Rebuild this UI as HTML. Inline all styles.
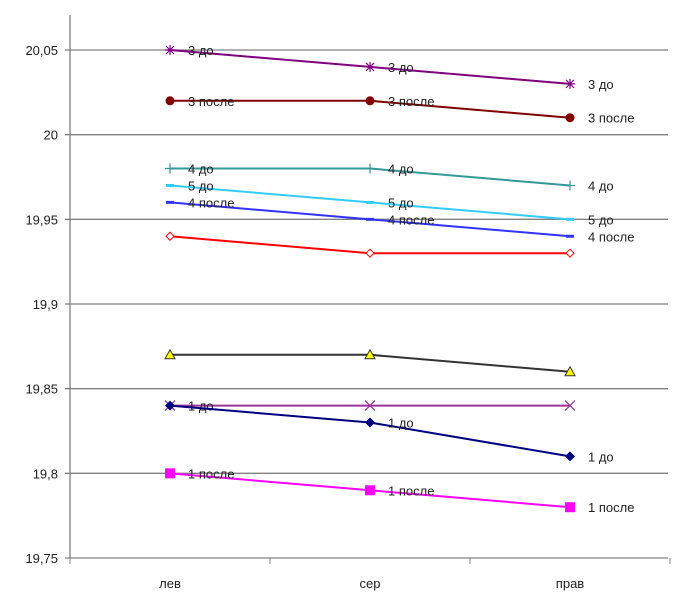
<!DOCTYPE html>
<html><head><meta charset="utf-8"><style>
body{margin:0;background:#fff}
svg{display:block;font-family:"Liberation Sans",Arial,sans-serif}
</style></head><body>
<svg id="c" width="688" height="606"></svg>
<script>
const categories=["лев","сер","прав"];
const yTicks=[19.75,19.8,19.85,19.9,19.95,20,20.05];
const yTickLabels=["19,75","19,8","19,85","19,9","19,95","20","20,05"];
const s3do=[20.05,20.04,20.03];
const s3posle=[20.02,20.02,20.01];
const s4do=[19.98,19.98,19.97];
const s5do=[19.97,19.96,19.95];
const s4posle=[19.96,19.95,19.94];
const sRed=[19.94,19.93,19.93];
const sTri=[19.87,19.87,19.86];
const s1doX=[19.84,19.84,19.84];
const s1do=[19.84,19.83,19.81];
const s1posle=[19.80,19.79,19.78];
const series=[
 {name:"3-do",v:s3do,c:"#800080",m:"star",l:["3 до","3 до","3 до"]},
 {name:"3-posle",v:s3posle,c:"#800000",m:"circle",l:["3 после","3 после","3 после"]},
 {name:"4-do",v:s4do,c:"#339999",m:"plus",l:["4 до","4 до","4 до"]},
 {name:"5-do",v:s5do,c:"#33ccff",m:"dash",l:["5 до","5 до","5 до"]},
 {name:"4-posle",v:s4posle,c:"#3333ff",m:"dash",l:["4 после","4 после","4 после"]},
 {name:"red",v:sRed,c:"#ff0000",m:"hdiamond",l:["","",""]},
 {name:"triangle",v:sTri,c:"#333333",m:"tri",l:["","",""]},
 {name:"1-do-x",v:s1doX,c:"#993399",m:"x",l:["1 до","",""]},
 {name:"1-do",v:s1do,c:"#000080",m:"diamond",l:["","1 до","1 до"]},
 {name:"1-posle",v:s1posle,c:"#ff00ff",m:"square",l:["1 после","1 после","1 после"]}
];
const NS="http://www.w3.org/2000/svg";
const svg=document.getElementById('c');
const X0=70,X1=670,Ytop=15;
const ymin=19.75,ymax=20.05,py0=558,py1=50;
const y=v=>py0-(v-ymin)/(ymax-ymin)*(py0-py1);
const x=i=>X0+(i+0.5)*(X1-X0)/categories.length;
function mk(t,a,p){const e=document.createElementNS(NS,t);for(const k in a)e.setAttribute(k,a[k]);(p||svg).appendChild(e);return e;}
yTicks.forEach((t,i)=>{
 const g=mk('line',{x1:X0-5,x2:X1-2,y1:y(t),y2:y(t),stroke:'#808080','stroke-width':1.3});
 
 
 const tx=mk('text',{x:X0-12,y:y(t)+5,'text-anchor':'end','font-size':13,fill:'#222'});
 tx.textContent=yTickLabels[i];
 
 
});
const ax=mk('line',{x1:X0,x2:X0,y1:Ytop,y2:py0,stroke:'#808080','stroke-width':1.3});


categories.forEach((c,i)=>{
 const tk=mk('line',{x1:X0+i*200,x2:X0+i*200,y1:py0,y2:py0+6,stroke:'#808080'});
 
 
 const t=mk('text',{x:x(i),y:588,'text-anchor':'middle','font-size':13,fill:'#222'});
 t.textContent=c;
 
 
});
const tk=mk('line',{x1:X1,x2:X1,y1:py0,y2:py0+6,stroke:'#808080'});
function marker(g,m,cx,cy,c){
 if(m==='star'){mk('path',{d:`M${cx-5} ${cy}H${cx+5}M${cx} ${cy-5}V${cy+5}M${cx-4} ${cy-4}L${cx+4} ${cy+4}M${cx-4} ${cy+4}L${cx+4} ${cy-4}`,stroke:c,'stroke-width':1.2},g);}
 else if(m==='circle'){mk('circle',{cx,cy,r:4.5,fill:c},g);}
 else if(m==='plus'){mk('path',{d:`M${cx-5} ${cy}H${cx+5}M${cx} ${cy-5}V${cy+5}`,stroke:c,'stroke-width':1.2},g);}
 else if(m==='dash'){mk('path',{d:`M${cx-4} ${cy}H${cx+4}`,stroke:c,'stroke-width':3},g);}
 else if(m==='hdiamond'){mk('path',{d:`M${cx} ${cy-4}L${cx+4} ${cy}L${cx} ${cy+4}L${cx-4} ${cy}Z`,stroke:c,fill:'#fff'},g);}
 else if(m==='tri'){mk('path',{d:`M${cx} ${cy-5}L${cx+5} ${cy+4}H${cx-5}Z`,stroke:'#333',fill:'#ffff00'},g);}
 else if(m==='x'){mk('path',{d:`M${cx-5} ${cy-5}L${cx+5} ${cy+5}M${cx-5} ${cy+5}L${cx+5} ${cy-5}`,stroke:c,'stroke-width':1.2},g);}
 else if(m==='diamond'){mk('path',{d:`M${cx} ${cy-5}L${cx+5} ${cy}L${cx} ${cy+5}L${cx-5} ${cy}Z`,fill:c},g);}
 else if(m==='square'){mk('rect',{x:cx-5,y:cy-5,width:10,height:10,fill:c},g);}
}
series.forEach(s=>{
 const g=mk('g',{});
 
 
 const pts=s.v.map((v,i)=>x(i)+','+y(v)).join(' ');
 mk('polyline',{points:pts,fill:'none',stroke:s.c,'stroke-width':2},g);
 s.v.forEach((v,i)=>{
  marker(g,s.m,x(i),y(v),s.c);
  if(s.l[i]){
   const t=mk('text',{x:x(i)+18,y:y(v)+5,'font-size':13,fill:'#222'},g);
   t.textContent=s.l[i];
   
   
  }
 });
});
</script>
</body></html>
